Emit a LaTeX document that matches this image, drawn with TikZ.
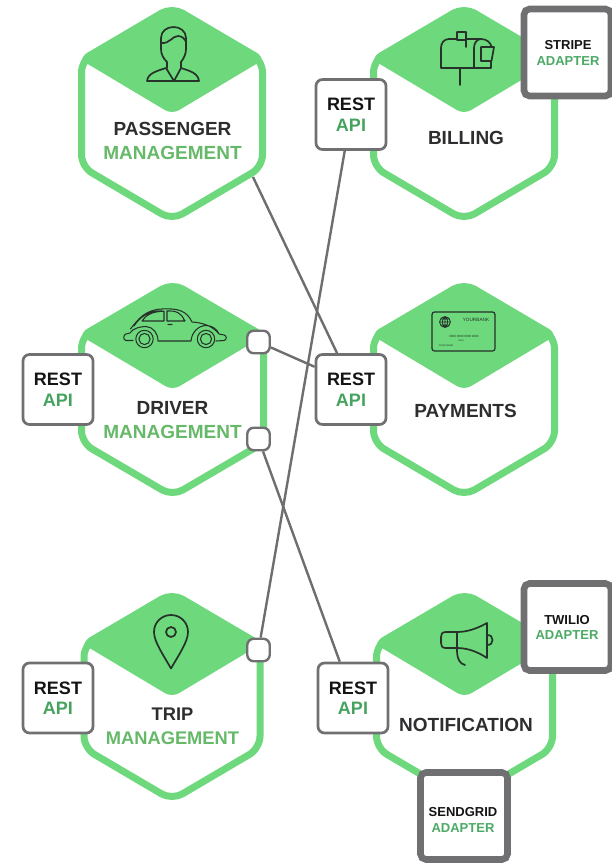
\documentclass[tikz,border=0pt]{standalone}
\usepackage{fontspec}
\setmainfont{Liberation Sans}
\definecolor{hexgreen}{HTML}{6DD87C}
\definecolor{mgmtgreen}{HTML}{66B968}
\definecolor{apigreen}{HTML}{46A35F}
\definecolor{adaptgreen}{HTML}{4CAA66}
\definecolor{boxgrey}{HTML}{707072}
\definecolor{linegrey}{HTML}{6E6E70}
\definecolor{labeldark}{HTML}{2E2E30}
\definecolor{icondark}{HTML}{26322A}
\pgfdeclarelayer{edges}
\pgfsetlayers{edges,main}
\tikzset{
  x=1pt,y=-1pt,
  hexline/.style={draw=hexgreen,line width=7pt,fill=white,rounded corners=12pt,line join=round},
  restbox/.style={draw=boxgrey,line width=2.7pt,fill=white,rounded corners=6.5pt,minimum size=70pt,inner sep=0pt,
     align=center,font=\fontsize{18}{20.5}\selectfont\bfseries,text=black!92},
  portbox/.style={draw=boxgrey,line width=2.4pt,fill=white,rounded corners=6.5pt,minimum size=22.5pt,inner sep=0pt},
  adapterbox/.style={draw=boxgrey,line width=6.6pt,fill=white,rounded corners=5.5pt,minimum size=87pt,inner sep=0pt},
  adaptertext/.style={inner sep=0pt,align=center,font=\fontsize{13}{15.5}\selectfont\bfseries,text=black!92},
  hexlabel/.style={inner sep=0pt,align=center,font=\fontsize{19}{24.2}\selectfont\bfseries,text=labeldark},
  connector/.style={draw=linegrey,line width=2.4pt},
  iconline/.style={draw=icondark,line width=1.7pt,line cap=round,line join=round},
  thinicon/.style={draw=icondark,line width=1.05pt,line cap=round,line join=round},
}
\newcommand{\api}{\textcolor{apigreen}{API}}
\newcommand{\adp}{\textcolor{adaptgreen}{ADAPTER}}
\newcommand{\mgm}{\textcolor{mgmtgreen}{MANAGEMENT}}
\newcommand{\hexcell}[4]{%
  \begin{scope}[shift={(#1,#2)}]
    \path[hexline] (0,-#4) -- (#3,-#4/2) -- (#3,#4/2) -- (0,#4) -- (-#3,#4/2) -- (-#3,-#4/2) -- cycle;
    \fill[hexgreen,rounded corners=3pt] (-#3,-#4/2) -- (-#3+3,-#4/2-6) -- (0,-#4+3) -- (#3-3,-#4/2-6) -- (#3,-#4/2) [rounded corners=8pt] -- (0,0.8) [rounded corners=1pt] -- cycle;
  \end{scope}}
\begin{document}
\begin{tikzpicture}
\useasboundingbox (0,0) rectangle (612,863);
% hexagons
\hexcell{172}{113.5}{90.5}{106.5}
\hexcell{464}{113.5}{90.5}{106.5}
\hexcell{172.5}{389.5}{91}{106.5}
\hexcell{464}{389.5}{90.5}{106.5}
\hexcell{172}{696.5}{88}{103.5}
\hexcell{464.5}{696.5}{88}{103.5}
\coordinate (passengeredge) at (253,177);
% labels
\node[hexlabel] (passengerlabel) at (172.5,141.3) {PASSENGER\\\mgm};
\node[hexlabel] (billinglabel) at (466,138) {BILLING};
\node[hexlabel] (driverlabel) at (172.5,420) {DRIVER\\\mgm};
\node[hexlabel] (paymentslabel) at (465.5,411) {PAYMENTS};
\node[hexlabel,font=\fontsize{18.3}{24.2}\selectfont\bfseries] (triplabel) at (172.5,726) {TRIP\\\mgm};
\node[hexlabel] (notificationlabel) at (466,725) {NOTIFICATION};
% REST boxes
\node[restbox] (restbilling) at (351,114.5) {REST\\\api};
\node[restbox] (restdriver) at (58,389.5) {REST\\\api};
\node[restbox] (restpayments) at (351,389.5) {REST\\\api};
\node[restbox] (resttrip) at (58,698) {REST\\\api};
\node[restbox] (restnotification) at (353,698) {REST\\\api};
% ports
\node[portbox] (driverportA) at (258.5,342) {};
\node[portbox] (driverportB) at (258.5,439) {};
\node[portbox] (tripport) at (258.5,650) {};
% adapters
\node[adapterbox] (stripe) at (567.5,52.5) {};
\node[adapterbox] (twilio) at (567.5,627) {};
\node[adapterbox] (sendgrid) at (464,816) {};
\node[adaptertext] (stripelabel) at (568,53) {STRIPE\\\adp};
\node[adaptertext] (twiliolabel) at (567,627.5) {TWILIO\\\adp};
\node[adaptertext] (sendgridlabel) at (463,820) {SENDGRID\\\adp};
% connectors
\begin{pgfonlayer}{edges}
\draw[connector] (passengeredge) -- (restpayments.111);
\draw[connector] (restbilling) -- (tripport);
\draw[connector] (driverportA) -- (restpayments.148);
\draw[connector] (driverportB) -- (restnotification);
\end{pgfonlayer}
% person icon
\draw[iconline] (147,81) -- (199,81)
  (147,81) .. controls (148,73) and (157,71) .. (166,68) -- (174,81) -- (181,68)
  .. controls (190,71) and (198,73) .. (199,81)
  (167,68) -- (167,62) .. controls (163,58) and (161,54) .. (161,49) -- (161,38)
  .. controls (161,31) and (167,27) .. (173.5,27) .. controls (180,27) and (186,31) .. (186,38)
  -- (186,49) .. controls (186,54) and (184,58) .. (181,62) -- (181,68)
  (161,43) .. controls (170,44) and (172,36) .. (178,36) .. controls (182,36) and (185,39) .. (186,42);
% mailbox icon
\draw[iconline] (457,39) -- (449,39) .. controls (444,39) and (441,43) .. (441,48) -- (441,68) -- (491,68) -- (491,62)
  (466,39) -- (481,39) .. controls (487,39) and (491,43) .. (491.5,47)
  (474,68) -- (474,48) .. controls (474,43) and (477,39) .. (481,39)
  (457,32) rectangle (466,40)
  (466,40) -- (466,47)
  (460,68) -- (460,85)
  (481,47) -- (494,47) -- (491.5,61) -- (481,61) -- cycle;
% car icon
\draw[thinicon]
  (144.5,339) circle (8.7) (144.5,339) circle (5.6)
  (206,339) circle (8.7) (206,339) circle (5.6)
  (158,341) -- (191,341)
  (130,333) .. controls (133,328) and (141,326.5) .. (146,326.5) .. controls (153,327) and (158,333) .. (158,341)
  (191,341) .. controls (191.5,333) and (198,325.5) .. (206,325.5) .. controls (212,325.5) and (217,329) .. (219,334)
  (130.5,329) .. controls (138,319) and (146,309.5) .. (162,309) .. controls (178,308) and (187,311) .. (192,322)
  .. controls (202,322.5) and (213,326) .. (219,334)
  (134,326) .. controls (140,317) and (148,311) .. (162,310.8)
  (142,321) .. controls (146,315) and (152,311.5) .. (164,311.2) -- (164,321) -- cycle
  (167,311) .. controls (176,310.5) and (182,313) .. (184.5,321) -- (167,321) -- cycle
  (168,324.5) -- (172,324.5)
  (130,333) -- (126,334) .. controls (123,335) and (123,340) .. (126,340.5) -- (133,340.5)
  (219,334) -- (224,335) .. controls (227,335.5) and (227,340) .. (224,340.5) -- (216,341);
\fill[icondark] (184.5,320.5) circle (1.1);
% card icon
\draw[draw=icondark,line width=1.2pt,rounded corners=2.5pt] (432,312) rectangle (495,351);
\draw[draw=icondark,line width=.8pt] (445,322) circle (5.5) (439.5,322) -- (450.5,322) (440.5,319) -- (449.5,319) (440.5,325) -- (449.5,325) (445,316.5) -- (445,327.5)
  (445,316.5) .. controls (441.5,319) and (441.5,325) .. (445,327.5) (445,316.5) .. controls (448.5,319) and (448.5,325) .. (445,327.5);
\node[inner sep=0pt,text=icondark,font=\fontsize{4.7}{5}\selectfont] (bankname) at (476,320) {YOURBANK};
\node[inner sep=0pt,text=icondark,font=\fontsize{3}{3}\selectfont] (cardnumber) at (464,336) {0000 0000 0000 0000};
\node[inner sep=0pt,text=icondark,font=\fontsize{2.2}{3}\selectfont] (cardexpiry) at (461,341) {00/00};
\node[inner sep=0pt,text=icondark,font=\fontsize{2.4}{3}\selectfont] (cardname) at (446,345.5) {YOUR NAME};
% pin icon
\draw[iconline] (171,668.5) .. controls (164,656) and (154,642) .. (154,632) .. controls (154,622) and (162,615) .. (171,615)
  .. controls (180,615) and (188,622) .. (188,632) .. controls (188,642) and (178,656) .. (171,668.5) -- cycle
  (171,632) circle (5);
% megaphone icon
\draw[iconline] (487,623) -- (487,658)
  (487,623) .. controls (478,628) and (468,632) .. (457,632) -- (446,632) .. controls (442,632) and (441,634) .. (441,637) -- (441,643)
  .. controls (441,646) and (442,648) .. (446,648) -- (457,648) .. controls (468,648) and (478,652) .. (487,658)
  (457,632) -- (457,650) .. controls (457,659) and (460,664) .. (465,665)
  (487,635) .. controls (491,635) and (492.5,637) .. (492.5,640) .. controls (492.5,643) and (491,645) .. (487,645);
\end{tikzpicture}
\end{document}
